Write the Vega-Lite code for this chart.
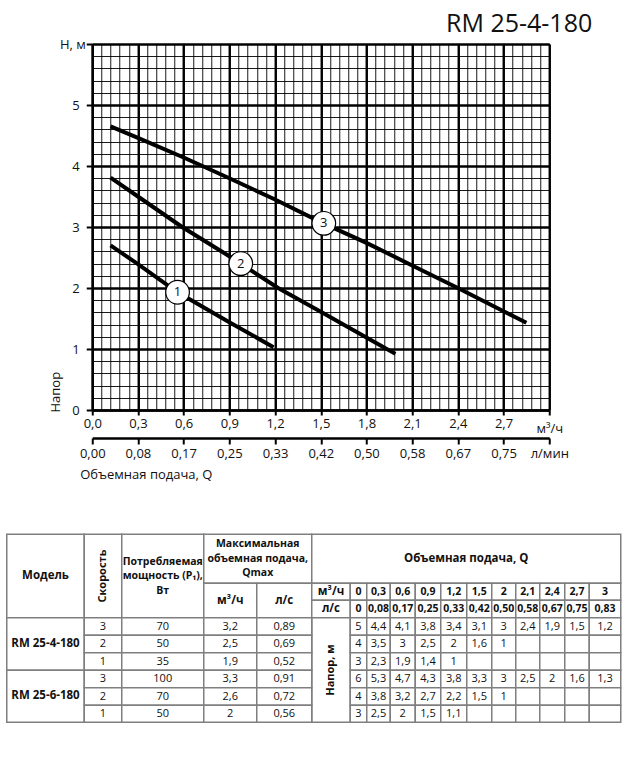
{
  "$schema": "https://vega.github.io/schema/vega-lite/v6.json",
  "background": "white",
  "padding": {"left": 5.25, "top": 12, "right": 5, "bottom": 5},
  "bounds": "flush",
  "spacing": 124.3,
  "config": {
    "view": {"stroke": null},
    "font": "Open Sans",
    "axis": {"labelFont": "Open Sans", "titleFont": "Open Sans", "labelColor": "#111", "titleColor": "#111", "tickColor": "#000", "domainColor": "#000", "gridColor": "#000", "gridOpacity": 1, "titleFontWeight": "normal"}
  },
  "datasets": {
    "curves": [
      {"c": 1, "Q": 0.12, "H": 2.7}, {"c": 1, "Q": 0.3, "H": 2.39}, {"c": 1, "Q": 0.56, "H": 1.93}, {"c": 1, "Q": 0.9, "H": 1.44}, {"c": 1, "Q": 1.19, "H": 1.03},
      {"c": 2, "Q": 0.12, "H": 3.81}, {"c": 2, "Q": 0.3, "H": 3.5}, {"c": 2, "Q": 0.59, "H": 3.0}, {"c": 2, "Q": 0.9, "H": 2.52}, {"c": 2, "Q": 1.22, "H": 2.0}, {"c": 2, "Q": 1.5, "H": 1.61}, {"c": 2, "Q": 1.89, "H": 1.06}, {"c": 2, "Q": 1.99, "H": 0.92},
      {"c": 3, "Q": 0.12, "H": 4.65}, {"c": 3, "Q": 0.3, "H": 4.46}, {"c": 3, "Q": 0.6, "H": 4.14}, {"c": 3, "Q": 0.9, "H": 3.8}, {"c": 3, "Q": 1.2, "H": 3.45}, {"c": 3, "Q": 1.5, "H": 3.08}, {"c": 3, "Q": 1.8, "H": 2.74}, {"c": 3, "Q": 2.1, "H": 2.37}, {"c": 3, "Q": 2.4, "H": 2.0}, {"c": 3, "Q": 2.7, "H": 1.62}, {"c": 3, "Q": 2.85, "H": 1.43}
    ],
    "labels": [
      {"n": "1", "Q": 0.56, "H": 1.93},
      {"n": "2", "Q": 0.975, "H": 2.4},
      {"n": "3", "Q": 1.52, "H": 3.06}
    ],
    "cells": [
      {"x0": 0, "x1": 77.5, "y0": 0, "y1": 83.5, "t": "Модель", "k": "head"},
      {"x0": 77.5, "x1": 115, "y0": 0, "y1": 83.5, "t": "Скорость", "k": "rot"},
      {"x0": 115, "x1": 197, "y0": 0, "y1": 83.5, "t": "Потребляемая\nмощность (P₁),\nВт", "k": "head2"},
      {"x0": 197, "x1": 305, "y0": 0, "y1": 49, "t": "Максимальная\nобъемная подача,\nQmax", "k": "head2"},
      {"x0": 197, "x1": 250, "y0": 49, "y1": 83.5, "t": "м³/ч", "k": "head"},
      {"x0": 250, "x1": 305, "y0": 49, "y1": 83.5, "t": "л/с", "k": "head"},
      {"x0": 305, "x1": 614, "y0": 0, "y1": 49, "t": "Объемная подача, Q", "k": "head"},
      {"x0": 305, "x1": 343.5, "y0": 49, "y1": 66, "t": "м³/ч", "k": "head"},
      {"x0": 305, "x1": 343.5, "y0": 66, "y1": 83.5, "t": "л/с", "k": "head"},
      {"x0": 343.5, "x1": 360, "y0": 49, "y1": 66, "t": "0", "k": "flow"},
      {"x0": 360, "x1": 383.5, "y0": 49, "y1": 66, "t": "0,3", "k": "flow"},
      {"x0": 383.5, "x1": 408.5, "y0": 49, "y1": 66, "t": "0,6", "k": "flow"},
      {"x0": 408.5, "x1": 434, "y0": 49, "y1": 66, "t": "0,9", "k": "flow"},
      {"x0": 434, "x1": 460, "y0": 49, "y1": 66, "t": "1,2", "k": "flow"},
      {"x0": 460, "x1": 485, "y0": 49, "y1": 66, "t": "1,5", "k": "flow"},
      {"x0": 485, "x1": 509, "y0": 49, "y1": 66, "t": "2", "k": "flow"},
      {"x0": 509, "x1": 533, "y0": 49, "y1": 66, "t": "2,1", "k": "flow"},
      {"x0": 533, "x1": 558, "y0": 49, "y1": 66, "t": "2,4", "k": "flow"},
      {"x0": 558, "x1": 582.5, "y0": 49, "y1": 66, "t": "2,7", "k": "flow"},
      {"x0": 582.5, "x1": 614, "y0": 49, "y1": 66, "t": "3", "k": "flow"},
      {"x0": 343.5, "x1": 360, "y0": 66, "y1": 83.5, "t": "0", "k": "flow"},
      {"x0": 360, "x1": 383.5, "y0": 66, "y1": 83.5, "t": "0,08", "k": "flow"},
      {"x0": 383.5, "x1": 408.5, "y0": 66, "y1": 83.5, "t": "0,17", "k": "flow"},
      {"x0": 408.5, "x1": 434, "y0": 66, "y1": 83.5, "t": "0,25", "k": "flow"},
      {"x0": 434, "x1": 460, "y0": 66, "y1": 83.5, "t": "0,33", "k": "flow"},
      {"x0": 460, "x1": 485, "y0": 66, "y1": 83.5, "t": "0,42", "k": "flow"},
      {"x0": 485, "x1": 509, "y0": 66, "y1": 83.5, "t": "0,50", "k": "flow"},
      {"x0": 509, "x1": 533, "y0": 66, "y1": 83.5, "t": "0,58", "k": "flow"},
      {"x0": 533, "x1": 558, "y0": 66, "y1": 83.5, "t": "0,67", "k": "flow"},
      {"x0": 558, "x1": 582.5, "y0": 66, "y1": 83.5, "t": "0,75", "k": "flow"},
      {"x0": 582.5, "x1": 614, "y0": 66, "y1": 83.5, "t": "0,83", "k": "flow"},
      {"x0": 0, "x1": 77.5, "y0": 83.5, "y1": 136, "t": "RM 25-4-180", "k": "head"},
      {"x0": 0, "x1": 77.5, "y0": 136, "y1": 188, "t": "RM 25-6-180", "k": "head"},
      {"x0": 305, "x1": 343.5, "y0": 83.5, "y1": 188, "t": "Напор, м", "k": "rot"},

      {"x0": 77.5, "x1": 115, "y0": 83.5, "y1": 101, "t": "3", "k": "val"},
      {"x0": 115, "x1": 197, "y0": 83.5, "y1": 101, "t": "70", "k": "val"},
      {"x0": 197, "x1": 250, "y0": 83.5, "y1": 101, "t": "3,2", "k": "val"},
      {"x0": 250, "x1": 305, "y0": 83.5, "y1": 101, "t": "0,89", "k": "val"},
      {"x0": 343.5, "x1": 360, "y0": 83.5, "y1": 101, "t": "5", "k": "val"},
      {"x0": 360, "x1": 383.5, "y0": 83.5, "y1": 101, "t": "4,4", "k": "val"},
      {"x0": 383.5, "x1": 408.5, "y0": 83.5, "y1": 101, "t": "4,1", "k": "val"},
      {"x0": 408.5, "x1": 434, "y0": 83.5, "y1": 101, "t": "3,8", "k": "val"},
      {"x0": 434, "x1": 460, "y0": 83.5, "y1": 101, "t": "3,4", "k": "val"},
      {"x0": 460, "x1": 485, "y0": 83.5, "y1": 101, "t": "3,1", "k": "val"},
      {"x0": 485, "x1": 509, "y0": 83.5, "y1": 101, "t": "3", "k": "val"},
      {"x0": 509, "x1": 533, "y0": 83.5, "y1": 101, "t": "2,4", "k": "val"},
      {"x0": 533, "x1": 558, "y0": 83.5, "y1": 101, "t": "1,9", "k": "val"},
      {"x0": 558, "x1": 582.5, "y0": 83.5, "y1": 101, "t": "1,5", "k": "val"},
      {"x0": 582.5, "x1": 614, "y0": 83.5, "y1": 101, "t": "1,2", "k": "val"},

      {"x0": 77.5, "x1": 115, "y0": 101, "y1": 118.5, "t": "2", "k": "val"},
      {"x0": 115, "x1": 197, "y0": 101, "y1": 118.5, "t": "50", "k": "val"},
      {"x0": 197, "x1": 250, "y0": 101, "y1": 118.5, "t": "2,5", "k": "val"},
      {"x0": 250, "x1": 305, "y0": 101, "y1": 118.5, "t": "0,69", "k": "val"},
      {"x0": 343.5, "x1": 360, "y0": 101, "y1": 118.5, "t": "4", "k": "val"},
      {"x0": 360, "x1": 383.5, "y0": 101, "y1": 118.5, "t": "3,5", "k": "val"},
      {"x0": 383.5, "x1": 408.5, "y0": 101, "y1": 118.5, "t": "3", "k": "val"},
      {"x0": 408.5, "x1": 434, "y0": 101, "y1": 118.5, "t": "2,5", "k": "val"},
      {"x0": 434, "x1": 460, "y0": 101, "y1": 118.5, "t": "2", "k": "val"},
      {"x0": 460, "x1": 485, "y0": 101, "y1": 118.5, "t": "1,6", "k": "val"},
      {"x0": 485, "x1": 509, "y0": 101, "y1": 118.5, "t": "1", "k": "val"},
      {"x0": 509, "x1": 533, "y0": 101, "y1": 118.5, "t": "", "k": "val"},
      {"x0": 533, "x1": 558, "y0": 101, "y1": 118.5, "t": "", "k": "val"},
      {"x0": 558, "x1": 582.5, "y0": 101, "y1": 118.5, "t": "", "k": "val"},
      {"x0": 582.5, "x1": 614, "y0": 101, "y1": 118.5, "t": "", "k": "val"},

      {"x0": 77.5, "x1": 115, "y0": 118.5, "y1": 136, "t": "1", "k": "val"},
      {"x0": 115, "x1": 197, "y0": 118.5, "y1": 136, "t": "35", "k": "val"},
      {"x0": 197, "x1": 250, "y0": 118.5, "y1": 136, "t": "1,9", "k": "val"},
      {"x0": 250, "x1": 305, "y0": 118.5, "y1": 136, "t": "0,52", "k": "val"},
      {"x0": 343.5, "x1": 360, "y0": 118.5, "y1": 136, "t": "3", "k": "val"},
      {"x0": 360, "x1": 383.5, "y0": 118.5, "y1": 136, "t": "2,3", "k": "val"},
      {"x0": 383.5, "x1": 408.5, "y0": 118.5, "y1": 136, "t": "1,9", "k": "val"},
      {"x0": 408.5, "x1": 434, "y0": 118.5, "y1": 136, "t": "1,4", "k": "val"},
      {"x0": 434, "x1": 460, "y0": 118.5, "y1": 136, "t": "1", "k": "val"},
      {"x0": 460, "x1": 485, "y0": 118.5, "y1": 136, "t": "", "k": "val"},
      {"x0": 485, "x1": 509, "y0": 118.5, "y1": 136, "t": "", "k": "val"},
      {"x0": 509, "x1": 533, "y0": 118.5, "y1": 136, "t": "", "k": "val"},
      {"x0": 533, "x1": 558, "y0": 118.5, "y1": 136, "t": "", "k": "val"},
      {"x0": 558, "x1": 582.5, "y0": 118.5, "y1": 136, "t": "", "k": "val"},
      {"x0": 582.5, "x1": 614, "y0": 118.5, "y1": 136, "t": "", "k": "val"},

      {"x0": 77.5, "x1": 115, "y0": 136, "y1": 153.5, "t": "3", "k": "val"},
      {"x0": 115, "x1": 197, "y0": 136, "y1": 153.5, "t": "100", "k": "val"},
      {"x0": 197, "x1": 250, "y0": 136, "y1": 153.5, "t": "3,3", "k": "val"},
      {"x0": 250, "x1": 305, "y0": 136, "y1": 153.5, "t": "0,91", "k": "val"},
      {"x0": 343.5, "x1": 360, "y0": 136, "y1": 153.5, "t": "6", "k": "val"},
      {"x0": 360, "x1": 383.5, "y0": 136, "y1": 153.5, "t": "5,3", "k": "val"},
      {"x0": 383.5, "x1": 408.5, "y0": 136, "y1": 153.5, "t": "4,7", "k": "val"},
      {"x0": 408.5, "x1": 434, "y0": 136, "y1": 153.5, "t": "4,3", "k": "val"},
      {"x0": 434, "x1": 460, "y0": 136, "y1": 153.5, "t": "3,8", "k": "val"},
      {"x0": 460, "x1": 485, "y0": 136, "y1": 153.5, "t": "3,3", "k": "val"},
      {"x0": 485, "x1": 509, "y0": 136, "y1": 153.5, "t": "3", "k": "val"},
      {"x0": 509, "x1": 533, "y0": 136, "y1": 153.5, "t": "2,5", "k": "val"},
      {"x0": 533, "x1": 558, "y0": 136, "y1": 153.5, "t": "2", "k": "val"},
      {"x0": 558, "x1": 582.5, "y0": 136, "y1": 153.5, "t": "1,6", "k": "val"},
      {"x0": 582.5, "x1": 614, "y0": 136, "y1": 153.5, "t": "1,3", "k": "val"},

      {"x0": 77.5, "x1": 115, "y0": 153.5, "y1": 171, "t": "2", "k": "val"},
      {"x0": 115, "x1": 197, "y0": 153.5, "y1": 171, "t": "70", "k": "val"},
      {"x0": 197, "x1": 250, "y0": 153.5, "y1": 171, "t": "2,6", "k": "val"},
      {"x0": 250, "x1": 305, "y0": 153.5, "y1": 171, "t": "0,72", "k": "val"},
      {"x0": 343.5, "x1": 360, "y0": 153.5, "y1": 171, "t": "4", "k": "val"},
      {"x0": 360, "x1": 383.5, "y0": 153.5, "y1": 171, "t": "3,8", "k": "val"},
      {"x0": 383.5, "x1": 408.5, "y0": 153.5, "y1": 171, "t": "3,2", "k": "val"},
      {"x0": 408.5, "x1": 434, "y0": 153.5, "y1": 171, "t": "2,7", "k": "val"},
      {"x0": 434, "x1": 460, "y0": 153.5, "y1": 171, "t": "2,2", "k": "val"},
      {"x0": 460, "x1": 485, "y0": 153.5, "y1": 171, "t": "1,5", "k": "val"},
      {"x0": 485, "x1": 509, "y0": 153.5, "y1": 171, "t": "1", "k": "val"},
      {"x0": 509, "x1": 533, "y0": 153.5, "y1": 171, "t": "", "k": "val"},
      {"x0": 533, "x1": 558, "y0": 153.5, "y1": 171, "t": "", "k": "val"},
      {"x0": 558, "x1": 582.5, "y0": 153.5, "y1": 171, "t": "", "k": "val"},
      {"x0": 582.5, "x1": 614, "y0": 153.5, "y1": 171, "t": "", "k": "val"},

      {"x0": 77.5, "x1": 115, "y0": 171, "y1": 188, "t": "1", "k": "val"},
      {"x0": 115, "x1": 197, "y0": 171, "y1": 188, "t": "50", "k": "val"},
      {"x0": 197, "x1": 250, "y0": 171, "y1": 188, "t": "2", "k": "val"},
      {"x0": 250, "x1": 305, "y0": 171, "y1": 188, "t": "0,56", "k": "val"},
      {"x0": 343.5, "x1": 360, "y0": 171, "y1": 188, "t": "3", "k": "val"},
      {"x0": 360, "x1": 383.5, "y0": 171, "y1": 188, "t": "2,5", "k": "val"},
      {"x0": 383.5, "x1": 408.5, "y0": 171, "y1": 188, "t": "2", "k": "val"},
      {"x0": 408.5, "x1": 434, "y0": 171, "y1": 188, "t": "1,5", "k": "val"},
      {"x0": 434, "x1": 460, "y0": 171, "y1": 188, "t": "1,1", "k": "val"},
      {"x0": 460, "x1": 485, "y0": 171, "y1": 188, "t": "", "k": "val"},
      {"x0": 485, "x1": 509, "y0": 171, "y1": 188, "t": "", "k": "val"},
      {"x0": 509, "x1": 533, "y0": 171, "y1": 188, "t": "", "k": "val"},
      {"x0": 533, "x1": 558, "y0": 171, "y1": 188, "t": "", "k": "val"},
      {"x0": 558, "x1": 582.5, "y0": 171, "y1": 188, "t": "", "k": "val"},
      {"x0": 582.5, "x1": 614, "y0": 171, "y1": 188, "t": "", "k": "val"}
    ]
  },
  "vconcat": [
    {
      "width": 457,
      "height": 366,
      "title": {"text": "RM 25-4-180", "anchor": "end", "frame": "group", "font": "Open Sans", "fontSize": 25, "fontWeight": "normal", "color": "#111", "offset": 1, "dx": 43},
      "data": {"name": "curves"},
      "layer": [
        {
          "mark": {"type": "line", "opacity": 0},
          "encoding": {
            "x": {"field": "Q", "type": "quantitative", "scale": {"domain": [0, 3], "nice": false, "zero": false},
              "axis": {"orient": "bottom", "values": [0,0.06,0.12,0.18,0.24,0.3,0.36,0.42,0.48,0.54,0.6,0.66,0.72,0.78,0.84,0.9,0.96,1.02,1.08,1.14,1.2,1.26,1.32,1.38,1.44,1.5,1.56,1.62,1.68,1.74,1.8,1.86,1.92,1.98,2.04,2.1,2.16,2.22,2.28,2.34,2.4,2.46,2.52,2.58,2.64,2.7,2.76,2.82,2.88,2.94,3],
                "grid": true, "gridWidth": 0.9, "ticks": false, "labels": false, "domain": false, "title": null}},
            "y": {"field": "H", "type": "quantitative", "scale": {"domain": [0, 6], "nice": false, "zero": false},
              "axis": {"orient": "left", "values": [0,0.2,0.4,0.6,0.8,1,1.2,1.4,1.6,1.8,2,2.2,2.4,2.6,2.8,3,3.2,3.4,3.6,3.8,4,4.2,4.4,4.6,4.8,5,5.2,5.4,5.6,5.8,6],
                "grid": true, "gridWidth": 0.9, "ticks": false, "labels": false, "domain": false, "title": null}}
          }
        },
        {
          "mark": {"type": "line", "opacity": 0},
          "encoding": {
            "x": {"field": "Q", "type": "quantitative",
              "axis": {"orient": "bottom", "values": [0,0.3,0.6,0.9,1.2,1.5,1.8,2.1,2.4,2.7,3],
                "grid": true, "gridWidth": 2.4, "ticks": true, "tickSize": 5, "tickWidth": 2,
                "domain": true, "domainWidth": 2.4, "labels": true,
                "labelExpr": "datum.value > 2.95 ? 'м³/ч' : replace(format(datum.value, '.1f'), '.', ',')",
                "labelFlush": false, "labelOverlap": false, "labelBound": false,
                "labelPadding": {"condition": {"test": "datum.value > 2.95", "value": 7}, "value": 2},
                "labelFontSize": 13, "title": null}},
            "y": {"field": "H", "type": "quantitative",
              "axis": {"orient": "left", "values": [0,1,2,3,4,5,6],
                "grid": true, "gridWidth": 2.4, "ticks": true, "tickSize": 6, "tickWidth": 2,
                "domain": true, "domainWidth": 2.4, "labels": true,
                "labelExpr": "datum.value > 5.5 ? 'H, м' : datum.label",
                "labelFlush": false, "labelOverlap": false, "labelBound": false,
                "labelPadding": {"condition": {"test": "datum.value > 5.5", "value": 1}, "value": 7},
                "labelFontSize": 13,
                "title": "Напор", "titleX": -36.5, "titleY": 368, "titleAngle": 270, "titleAlign": "left", "titleBaseline": "middle", "titleFontSize": 13}}
          }
        },
        {
          "mark": {"type": "line", "opacity": 0},
          "encoding": {
            "x": {"field": "Q", "type": "quantitative",
              "axis": {"orient": "bottom", "offset": 28, "values": [0,0.3,0.6,0.9,1.2,1.5,1.8,2.1,2.4,2.7,3],
                "grid": false, "ticks": true, "tickSize": 6, "tickWidth": 2,
                "domain": true, "domainWidth": 2.5, "labels": true,
                "labelExpr": "datum.value > 2.95 ? 'л/мин' : replace(format(datum.value / 3.6, '.2f'), '.', ',')",
                "labelFlush": false, "labelOverlap": false, "labelBound": false, "labelPadding": 3,
                "labelFontSize": 13,
                "title": "Объемная подача, Q", "titleX": -12.5, "titleY": 36, "titleAlign": "left", "titleBaseline": "middle", "titleFontSize": 13}},
            "y": {"field": "H", "type": "quantitative", "axis": null}
          }
        },
        {
          "mark": {"type": "line", "color": "#000", "strokeWidth": 4},
          "encoding": {
            "x": {"field": "Q", "type": "quantitative", "axis": null},
            "y": {"field": "H", "type": "quantitative", "axis": null},
            "detail": {"field": "c"}
          }
        },
        {
          "data": {"name": "labels"},
          "mark": {"type": "point", "shape": "circle", "filled": true, "color": "white", "stroke": "#000", "strokeWidth": 1.2, "size": 560, "opacity": 1},
          "encoding": {
            "x": {"field": "Q", "type": "quantitative", "axis": null},
            "y": {"field": "H", "type": "quantitative", "axis": null}
          }
        },
        {
          "data": {"name": "labels"},
          "mark": {"type": "text", "fontSize": 13, "color": "#111", "baseline": "middle"},
          "encoding": {
            "x": {"field": "Q", "type": "quantitative", "axis": null},
            "y": {"field": "H", "type": "quantitative", "axis": null},
            "text": {"field": "n"}
          }
        }
      ],
      "resolve": {"axis": {"x": "independent", "y": "independent"}}
    },
    {
      "width": 457,
      "height": 188,
      "data": {"name": "cells"},
      "transform": [
        {"calculate": "(datum.x0 + datum.x1) / 2", "as": "cx"},
        {"calculate": "(datum.y0 + datum.y1) / 2", "as": "cy"}
      ],
      "encoding": {
        "x": {"field": "x0", "type": "quantitative", "scale": {"domain": [0, 614], "range": [-85.5, 528.5], "nice": false, "zero": false}, "axis": null},
        "y": {"field": "y0", "type": "quantitative", "scale": {"domain": [0, 188], "range": [0, 188], "nice": false, "zero": false}, "axis": null}
      },
      "layer": [
        {
          "mark": {"type": "rect", "fill": "white", "stroke": "#7f7f7f", "strokeWidth": 1.5},
          "encoding": {"x2": {"field": "x1"}, "y2": {"field": "y1"}}
        },
        {
          "transform": [{"filter": "datum.k == 'head'"}],
          "mark": {"type": "text", "fontWeight": "bold", "fontSize": 11.5, "color": "#111", "align": "center", "baseline": "middle"},
          "encoding": {"x": {"field": "cx", "type": "quantitative"}, "y": {"field": "cy", "type": "quantitative"}, "text": {"field": "t"}}
        },
        {
          "transform": [{"filter": "datum.k == 'head2'"}],
          "mark": {"type": "text", "fontWeight": "bold", "fontSize": 10.5, "color": "#111", "align": "center", "baseline": "middle", "lineBreak": "\n", "lineHeight": 14.5, "dy": -14.5},
          "encoding": {"x": {"field": "cx", "type": "quantitative"}, "y": {"field": "cy", "type": "quantitative"}, "text": {"field": "t"}}
        },
        {
          "transform": [{"filter": "datum.k == 'rot'"}],
          "mark": {"type": "text", "fontWeight": "bold", "fontSize": 11, "color": "#111", "align": "center", "baseline": "middle", "angle": 270},
          "encoding": {"x": {"field": "cx", "type": "quantitative"}, "y": {"field": "cy", "type": "quantitative"}, "text": {"field": "t"}}
        },
        {
          "transform": [{"filter": "datum.k == 'flow'"}],
          "mark": {"type": "text", "fontWeight": "bold", "fontSize": 10.5, "color": "#111", "align": "center", "baseline": "middle"},
          "encoding": {"x": {"field": "cx", "type": "quantitative"}, "y": {"field": "cy", "type": "quantitative"}, "text": {"field": "t"}}
        },
        {
          "transform": [{"filter": "datum.k == 'val'"}],
          "mark": {"type": "text", "fontSize": 11, "color": "#111", "align": "center", "baseline": "middle"},
          "encoding": {"x": {"field": "cx", "type": "quantitative"}, "y": {"field": "cy", "type": "quantitative"}, "text": {"field": "t"}}
        }
      ]
    }
  ]
}
